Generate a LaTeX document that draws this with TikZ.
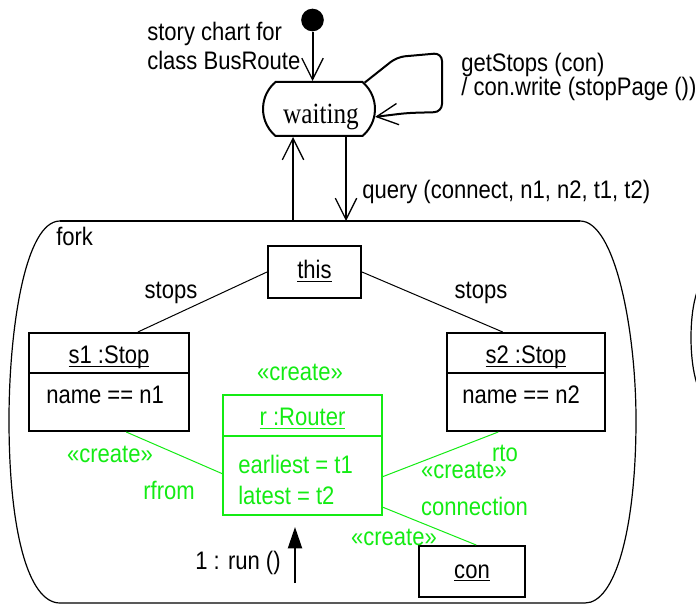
\documentclass[tikz,border=0pt]{standalone}
\usepackage{fontspec}
\setmainfont{Liberation Sans}[FakeStretch=0.87]
\newfontfamily\statefont{Liberation Serif}[FakeStretch=0.86]
\usetikzlibrary{arrows.meta,shapes.misc}
\definecolor{creategreen}{RGB}{20,235,20}
% object names are underlined just below the baseline, ignoring descenders
\newcommand\objname[1]{\setbox0\hbox{#1}\rlap{\vrule width\wd0 height -1.2pt depth 2.2pt}\box0}

\begin{document}
\begin{tikzpicture}[x=0.75pt,y=-0.75pt,
  font=\fontsize{19}{23}\selectfont,
  objbox/.style={draw, rectangle, line width=1.5pt, inner sep=0pt},
  newobjbox/.style={objbox, draw=creategreen},
  txt/.style={inner sep=0pt, anchor=base},
  txtw/.style={inner sep=0pt, anchor=base west},
  gtxt/.style={txt, text=creategreen},
  gtxtw/.style={txtw, text=creategreen},
  assoc/.style={line width=0.75pt},
  gassoc/.style={assoc, draw=creategreen},
  transition/.style={line width=1.5pt,
    -{Straight Barb[length=16pt,width=16pt,line width=1pt]}},
  outline/.style={line width=0.9pt}]
\useasboundingbox (0,0) rectangle (696,605);

% ---------- story chart: initial state and the waiting state ----------
\node[circle, fill=black, minimum size=17pt, inner sep=0pt] (init) at (312.5,20) {};
\node[rounded rectangle, rounded rectangle arc length=100, draw, line width=1.5pt,
      minimum width=84pt, minimum height=40.5pt, inner sep=0pt] (waiting) at (319,109) {};
\node[txt, font=\statefont\fontsize{22}{26}\selectfont] (waitlbl) at (321,124) {waiting};

\node[txtw] (chartA) at (147,41) {story chart for};
\node[txtw] (chartB) at (147,70) {class BusRoute};
\node[txtw] (loopA) at (461,72) {getStops (con)};
\node[txtw] (loopB) at (461,96) {/ con.write (stopPage ())};
\node[txtw] (query) at (362,199) {query (connect, n1, n2, t1, t2)};

\draw[transition] (init) -- (init |- waiting.north);
\draw[transition, rounded corners=6pt]
  (waiting.30) -- (397,57) -- (442,53) -- (442,112) -- (407,113) -- (waiting.-8);

% ---------- the fork activity ----------
\draw[outline] (580,221) .. controls (615,221) and (636,330) .. (636,420)
  .. controls (636,530) and (615,603) .. (585,603) -- (60,603)
  .. controls (28,603) and (9,530) .. (9,420)
  .. controls (9,330) and (25,221) .. (60,221);
\draw[line width=1.5pt] (60,221) -- (580,221);
\node[txtw] (forklbl) at (56,246) {fork};

% neighbouring state, cut off at the right border
\draw[outline] (697,292) .. controls (689,315) and (689,360) .. (697,384);

\coordinate (upfoot) at (293,221);
\coordinate (downfoot) at (346,221);
\draw[transition] (upfoot) -- (upfoot |- waiting.south);
\draw[transition] (waiting.south -| downfoot) -- (downfoot);

% ---------- object diagram inside the fork ----------
\node[objbox, minimum width=69.75pt, minimum height=39pt] (this) at (314.5,272) {};
\node[txt] (thislbl) at (314.5,279) {\objname{this}};

\node[objbox, minimum width=120pt, minimum height=73.5pt] (s1) at (109,382) {};
\draw[line width=1.5pt] ([yshift=-30.75pt]s1.north west) -- ([yshift=-30.75pt]s1.north east);
\node[txt] (s1name) at (109,364) {\objname{s1 :Stop}};
\node[txtw] (s1attr) at (46,404) {name == n1};

\node[objbox, minimum width=118.5pt, minimum height=73.5pt] (s2) at (526,382) {};
\draw[line width=1.5pt] ([yshift=-30.75pt]s2.north west) -- ([yshift=-30.75pt]s2.north east);
\node[txt] (s2name) at (526,364) {\objname{s2 :Stop}};
\node[txtw] (s2attr) at (462,404) {name == n2};

\node[newobjbox, minimum width=119.25pt, minimum height=90pt] (r) at (302.5,455) {};
\draw[line width=1.5pt, creategreen] ([yshift=-31.5pt]r.north west) -- ([yshift=-31.5pt]r.north east);
\node[gtxt] (rst) at (300,381) {«create»};
\node[gtxt] (rname) at (302.5,426) {\objname{r :Router}};
\node[gtxtw] (rattrA) at (238,474) {earliest = t1};
\node[gtxtw] (rattrB) at (238,505) {latest = t2};

\node[objbox, minimum width=79.5pt, minimum height=38.25pt] (con) at (472,571.5) {};
\node[txt] (conname) at (472,578) {\objname{con}};

% links
\draw[assoc] (this.west) -- (s1.60);
\draw[assoc] (this.east) -- (s2.115);
\node[txt] (stopsA) at (171,299) {stops};
\node[txt] (stopsB) at (481,299) {stops};

\draw[gassoc] (s1.-71) -- (r.193);
\draw[gassoc] (r.-15) -- (s2.-119);
\draw[gassoc] (r.-33) -- (con.81);
\node[gtxt] (fromst) at (110,463) {«create»};
\node[gtxt] (fromrole) at (169,500) {rfrom};
\node[gtxt] (torole) at (505,462) {rto};
\node[gtxt] (tost) at (464,479) {«create»};
\node[gtxt] (conrole) at (474.5,516) {connection};
\node[gtxt] (const) at (394,546) {«create»};

% message
\coordinate (runfoot) at (295,583);
\coordinate (runtip) at (295,527);
\draw[line width=1.5pt, -{Triangle[length=16pt,width=10.5pt]}] (runfoot) -- (runtip);
\node[txt] (runlbl) at (238,569) {1 : run ()};
\end{tikzpicture}
\end{document}
